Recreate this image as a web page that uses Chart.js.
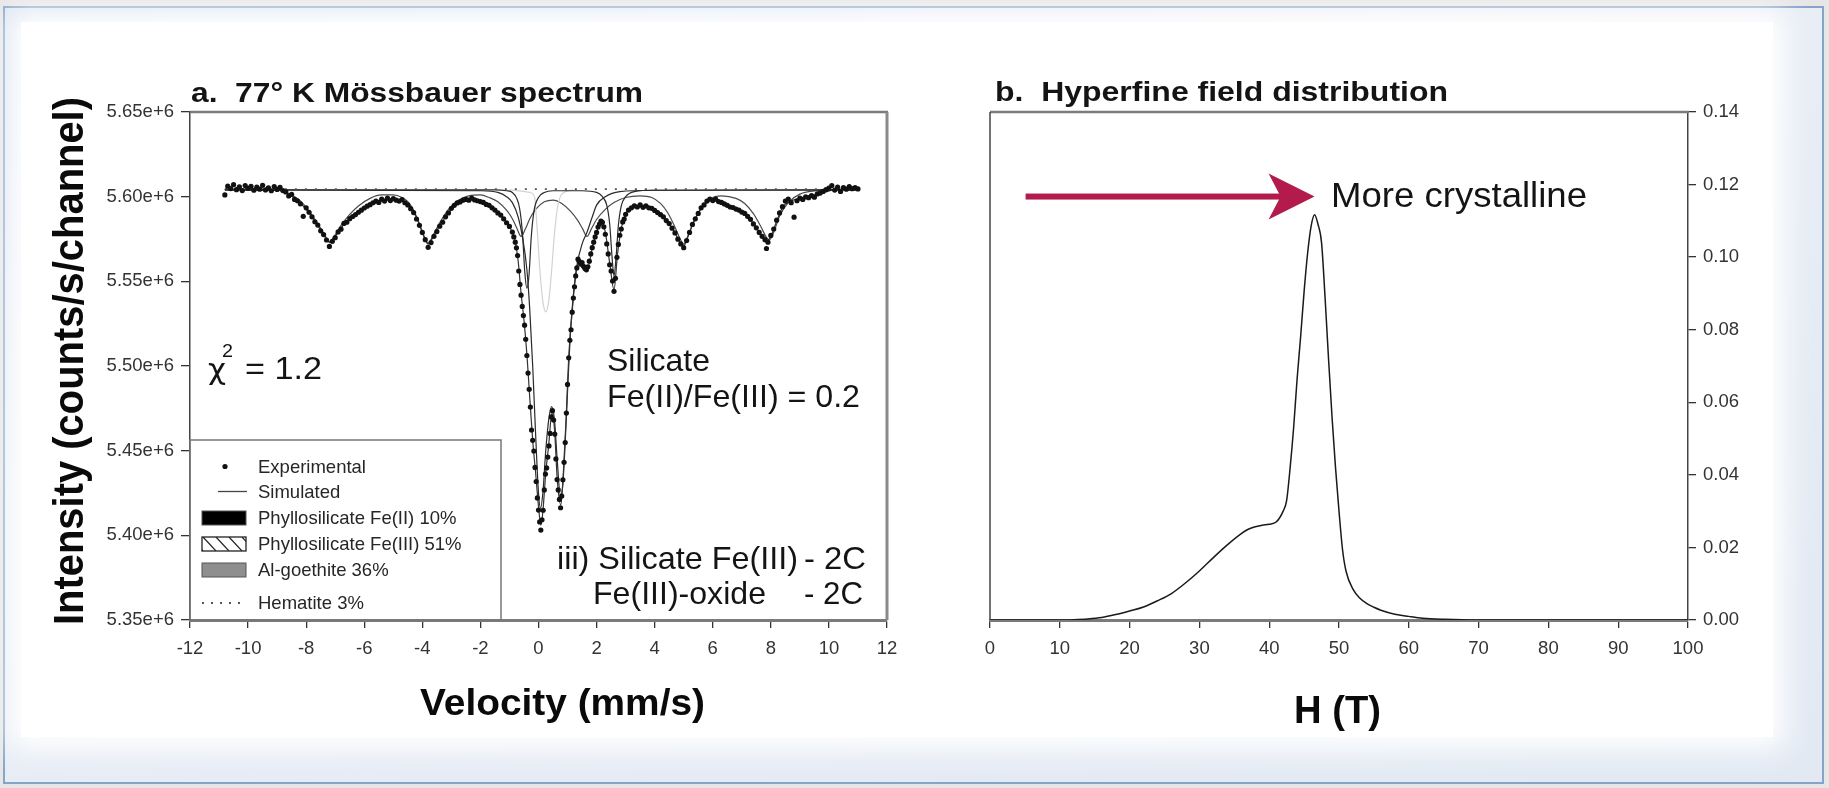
<!DOCTYPE html>
<html>
<head>
<meta charset="utf-8">
<title>77 K Mössbauer spectrum and hyperfine field distribution</title>
<script src="https://cdn.jsdelivr.net/npm/chart.js@4.4.1/dist/chart.umd.min.js"></script>
<style>
  html, body { margin: 0; padding: 0; }
  body { width: 1829px; height: 788px; background: #e6e6e6; position: relative; overflow: hidden; }
  #frame { position: absolute; left: 3px; top: 6px; width: 1817px; height: 774px;
           border: 2px solid #86a4c8;
           background: linear-gradient(160deg, #dbe5f1 0%, #e9eef6 35%, #e2e9f3 100%); }
  #sheet { position: absolute; left: 16px; top: 14px; width: 1752px; height: 715px;
           background: #fff; box-shadow: 0 0 28px 12px #fff; }
  canvas { position: absolute; top: 0; }
  #spec { left: 0; }
  #field { left: 940px; }
</style>
</head>
<body>
<div id="frame"><div id="sheet"></div></div>
<canvas id="spec" width="940" height="788"></canvas>
<canvas id="field" width="889" height="788"></canvas>
<script>
// ---- a. 77 K Mössbauer spectrum (intensity in units of 1e6 counts/s/channel) ----
const expVelocity = [
  -10.8, -10.7, -10.6, -10.5, -10.4, -10.3, -10.2, -10.1, -10.0, -9.9, -9.8, -9.7, -9.6, -9.5, -9.4,
  -9.3, -9.2, -9.1, -9.0, -8.9, -8.8, -8.7, -8.6, -8.5, -8.4, -8.3, -8.2, -8.1, -8.0, -7.9,
  -7.8, -7.7, -7.6, -7.5, -7.4, -7.3, -7.2, -7.1, -7.0, -6.9, -6.8, -6.7, -6.6, -6.5, -6.4,
  -6.3, -6.2, -6.1, -6.0, -5.9, -5.8, -5.7, -5.6, -5.5, -5.4, -5.3, -5.2, -5.1, -5.0, -4.9,
  -4.8, -4.7, -4.6, -4.5, -4.4, -4.3, -4.2, -4.1, -4.0, -3.9, -3.8, -3.7, -3.6, -3.5, -3.4,
  -3.3, -3.2, -3.1, -3.0, -2.9, -2.8, -2.7, -2.6, -2.5, -2.4, -2.3, -2.2, -2.1, -2.0, -1.9,
  -1.8, -1.7, -1.6, -1.5, -1.4, -1.3, -1.2, -1.1, -1.0, -0.9,
  -0.85, -0.80, -0.76, -0.72, -0.68, -0.64, -0.60, -0.56, -0.52, -0.48, -0.44, -0.40, -0.36, -0.32,
  -0.28, -0.24, -0.20, -0.16, -0.12, -0.08, -0.04, 0.00, 0.04, 0.08, 0.12, 0.16, 0.20, 0.24,
  0.28, 0.32, 0.36, 0.40, 0.44, 0.48, 0.52, 0.56, 0.60, 0.64, 0.68, 0.72, 0.76, 0.80,
  0.84, 0.88, 0.92, 0.96, 1.00, 1.04, 1.08, 1.12, 1.16, 1.20, 1.24, 1.28, 1.32, 1.36,
  1.40, 1.45, 1.50, 1.55, 1.60, 1.65, 1.70, 1.75, 1.80, 1.85, 1.90, 1.95, 2.00, 2.05,
  2.10, 2.15, 2.20, 2.25, 2.30, 2.35, 2.40, 2.45, 2.50, 2.55, 2.60, 2.65, 2.70, 2.75,
  2.80, 2.85, 2.90, 2.95,
  3.0, 3.1, 3.2, 3.3, 3.4, 3.5, 3.6, 3.7, 3.8, 3.9, 4.0, 4.1, 4.2, 4.3, 4.4,
  4.5, 4.6, 4.7, 4.8, 4.9, 5.0, 5.1, 5.2, 5.3, 5.4, 5.5, 5.6, 5.7, 5.8, 5.9,
  6.0, 6.1, 6.2, 6.3, 6.4, 6.5, 6.6, 6.7, 6.8, 6.9, 7.0, 7.1, 7.2, 7.3, 7.4,
  7.5, 7.6, 7.7, 7.8, 7.85, 7.9, 8.0, 8.1, 8.2, 8.3, 8.4, 8.5, 8.6, 8.7, 8.8,
  8.9, 9.0, 9.1, 9.2, 9.3, 9.4, 9.5, 9.6, 9.7, 9.8, 9.9, 10.0, 10.1, 10.2, 10.3,
  10.4, 10.5, 10.6, 10.7, 10.8, 10.9, 11.0
];
const expIntensity = [
  5.6010, 5.6062, 5.6048, 5.6071, 5.6041, 5.6058, 5.6036, 5.6066, 5.6049, 5.6061, 5.6038, 5.6056, 5.6044, 5.6067, 5.6040,
  5.6052, 5.6035, 5.6060, 5.6043, 5.6055, 5.6036, 5.6028, 5.6004, 5.6013, 5.5984, 5.5976, 5.5958, 5.5884, 5.5934, 5.5908,
  5.5881, 5.5852, 5.5832, 5.5798, 5.5776, 5.5744, 5.5706, 5.5736, 5.5758, 5.5792, 5.5808, 5.5842, 5.5849, 5.5870, 5.5883,
  5.5894, 5.5908, 5.5920, 5.5933, 5.5944, 5.5953, 5.5964, 5.5974, 5.5966, 5.5986, 5.5974, 5.5991, 5.5977, 5.5989, 5.5979,
  5.5974, 5.5983, 5.5964, 5.5951, 5.5929, 5.5906, 5.5868, 5.5831, 5.5789, 5.5746, 5.5701, 5.5729, 5.5766, 5.5794, 5.5826,
  5.5849, 5.5881, 5.5904, 5.5931, 5.5949, 5.5963, 5.5969, 5.5979, 5.5984, 5.5979, 5.5991, 5.5981, 5.5976, 5.5971, 5.5966,
  5.5954, 5.5949, 5.5934, 5.5921, 5.5904, 5.5891, 5.5869, 5.5846, 5.5824, 5.5791,
  5.5762, 5.5731, 5.5698, 5.5652, 5.5561, 5.5482, 5.5418, 5.5352, 5.5298, 5.5241, 5.5158, 5.5062, 5.4958, 5.4862,
  5.4758, 5.4622, 5.4561, 5.4498, 5.4401, 5.4318, 5.4221, 5.4149, 5.4079, 5.4031, 5.4092, 5.4148, 5.4268, 5.4362,
  5.4398, 5.4462, 5.4528, 5.4602, 5.4699, 5.4736, 5.4681, 5.4598, 5.4451, 5.4329, 5.4268, 5.4212, 5.4163, 5.4232,
  5.4328, 5.4431, 5.4548, 5.4722, 5.4891, 5.5048, 5.5152, 5.5214, 5.5318, 5.5401, 5.5468, 5.5532, 5.5579, 5.5631,
  5.5618, 5.5602, 5.5611, 5.5589, 5.5576, 5.5568, 5.5586, 5.5619, 5.5662, 5.5699, 5.5731, 5.5762, 5.5789, 5.5821,
  5.5838, 5.5856, 5.5849, 5.5822, 5.5778, 5.5721, 5.5662, 5.5598, 5.5561, 5.5502, 5.5441, 5.5518, 5.5642, 5.5718,
  5.5772, 5.5809, 5.5851, 5.5868,
  5.5896, 5.5921, 5.5934, 5.5946, 5.5939, 5.5951, 5.5937, 5.5946, 5.5934, 5.5931, 5.5919, 5.5906, 5.5894, 5.5881, 5.5859,
  5.5841, 5.5814, 5.5786, 5.5749, 5.5721, 5.5699, 5.5741, 5.5789, 5.5836, 5.5869, 5.5901, 5.5934, 5.5951, 5.5974, 5.5986,
  5.5977, 5.5986, 5.5971, 5.5966, 5.5957, 5.5949, 5.5939, 5.5936, 5.5927, 5.5921, 5.5909, 5.5901, 5.5884, 5.5866, 5.5839,
  5.5816, 5.5789, 5.5766, 5.5746, 5.5694, 5.5731, 5.5771, 5.5809, 5.5861, 5.5904, 5.5941, 5.5974, 5.5986, 5.5964, 5.5879,
  5.5976, 5.5991, 5.5984, 5.5999, 5.5994, 5.6006, 5.5997, 5.6016, 5.6021, 5.6031, 5.6041, 5.6051, 5.6066, 5.6039, 5.6056,
  5.6031, 5.6053, 5.6044, 5.6059, 5.6047, 5.6053, 5.6046
];

// fitted envelope
const simVelocity = [
  -10.8, -9.5, -9.0, -8.7, -8.4, -8.1, -7.8, -7.6, -7.4, -7.2, -7.0, -6.8, -6.5, -6.2, -5.8, -5.4, -5.0,
  -4.7, -4.5, -4.3, -4.1, -3.95, -3.8, -3.65, -3.5, -3.3, -3.1, -2.9, -2.6, -2.3, -2.0, -1.7, -1.4,
  -1.2, -1.0, -0.9, -0.8, -0.7, -0.6, -0.5, -0.4, -0.3, -0.2, -0.1, 0.0, 0.08, 0.15, 0.25, 0.35,
  0.46, 0.55, 0.65, 0.77, 0.85, 0.95, 1.05, 1.15, 1.25, 1.35, 1.45, 1.6, 1.7, 1.85, 2.0, 2.18,
  2.3, 2.45, 2.6, 2.72, 2.85, 3.0, 3.3, 3.6, 3.9, 4.2, 4.5, 4.7, 4.9, 5.0, 5.15, 5.3, 5.6, 5.9,
  6.2, 6.6, 7.0, 7.3, 7.6, 7.85, 8.0, 8.2, 8.4, 8.7, 9.2, 9.7, 10.2, 11.0
];
const simIntensity = [
  5.6045, 5.6045, 5.6040, 5.6025, 5.5990, 5.5945, 5.5880, 5.5830, 5.5775, 5.5730, 5.5765, 5.5815, 5.5870, 5.5910, 5.5950, 5.5975, 5.5982,
  5.5975, 5.5955, 5.5910, 5.5835, 5.5765, 5.5720, 5.5755, 5.5800, 5.5855, 5.5905, 5.5945, 5.5975, 5.5985, 5.5975, 5.5950, 5.5908,
  5.5870, 5.5820, 5.5790, 5.5735, 5.5620, 5.5430, 5.5270, 5.5070, 5.4810, 5.4560, 5.4370, 5.4170, 5.4060, 5.4140, 5.4370, 5.4530,
  5.4720, 5.4630, 5.4320, 5.4180, 5.4350, 5.4690, 5.5080, 5.5300, 5.5490, 5.5600, 5.5610, 5.5590, 5.5585, 5.5695, 5.5790, 5.5850,
  5.5790, 5.5610, 5.5450, 5.5660, 5.5810, 5.5895, 5.5940, 5.5940, 5.5930, 5.5895, 5.5840, 5.5785, 5.5725, 5.5710, 5.5765, 5.5835, 5.5930, 5.5980,
  5.5975, 5.5945, 5.5910, 5.5865, 5.5790, 5.5740, 5.5765, 5.5855, 5.5935, 5.5975, 5.5995, 5.6020, 5.6040, 5.6045
];

// Phyllosilicate Fe(II) doublet
const fe2Velocity = [-10.8, -1.5, -1.1, -0.9, -0.75, -0.65, -0.55, -0.47, -0.40, -0.33, -0.25, -0.15, 0.0, 0.2, 0.5,
  1.5, 2.0, 2.2, 2.35, 2.45, 2.53, 2.6, 2.67, 2.75, 2.85, 3.0, 3.3, 4.0, 11.0];
const fe2Intensity = [5.6040, 5.6040, 5.6035, 5.6025, 5.5990, 5.5930, 5.5780, 5.5550, 5.5460, 5.5530, 5.5760, 5.5920, 5.5995, 5.6025, 5.6035,
  5.6035, 5.6025, 5.6000, 5.5950, 5.5840, 5.5650, 5.5530, 5.5640, 5.5830, 5.5945, 5.6000, 5.6030, 5.6038, 5.6040];

// Phyllosilicate Fe(III) doublet
const fe3Velocity = [-10.8, -2.0, -1.4, -1.1, -0.9, -0.7, -0.55, -0.4, -0.3, -0.2, -0.1, 0.0, 0.07, 0.15, 0.25,
  0.35, 0.45, 0.55, 0.65, 0.75, 0.82, 0.9, 1.0, 1.1, 1.2, 1.33, 1.5, 1.67, 1.85, 2.0, 2.3, 2.8, 4.0, 11.0];
const fe3Intensity = [5.6040, 5.6035, 5.6025, 5.6000, 5.5965, 5.5880, 5.5760, 5.5570, 5.5330, 5.5000, 5.4600, 5.4250, 5.4160, 5.4250, 5.4500,
  5.4680, 5.4760, 5.4680, 5.4430, 5.4240, 5.4270, 5.4480, 5.4850, 5.5200, 5.5420, 5.5600, 5.5720, 5.5790, 5.5880, 5.5950, 5.6000, 5.6030, 5.6038, 5.6040];

// narrow central Fe(III) line
const fe3bVelocity = [-1.0, -0.3, -0.14, -0.05, 0.05, 0.15, 0.25, 0.35, 0.45, 0.55, 0.65, 0.8, 1.2];
const fe3bIntensity = [5.6040, 5.6025, 5.6000, 5.5820, 5.5560, 5.5380, 5.5320, 5.5380, 5.5560, 5.5780, 5.5930, 5.6015, 5.6040];

// Al-goethite sextet
const goethiteVelocity = [-10.8, -9.0, -8.5, -8.2, -7.9, -7.6, -7.4, -7.2, -7.0, -6.8, -6.5, -6.2, -5.8, -5.4, -5.0,
  -4.7, -4.5, -4.3, -4.1, -3.95, -3.8, -3.65, -3.5, -3.3, -3.1, -2.8, -2.4, -2.0, -1.7, -1.4,
  -1.1, -0.9, -0.75, -0.6, -0.45, -0.3, -0.1, 0.2, 0.5, 0.8, 1.1, 1.35, 1.52, 1.67, 1.82,
  2.0, 2.3, 2.6, 3.0, 3.5, 3.9, 4.2, 4.45, 4.7, 4.88, 5.0, 5.15, 5.35, 5.6, 5.9,
  6.3, 6.8, 7.1, 7.4, 7.65, 7.85, 7.95, 8.1, 8.3, 8.6, 9.0, 9.6, 10.5, 11.0];
const goethiteIntensity = [5.6040, 5.6038, 5.6010, 5.5975, 5.5915, 5.5840, 5.5785, 5.5735, 5.5775, 5.5830, 5.5895, 5.5945, 5.5990, 5.6010, 5.6010,
  5.5995, 5.5970, 5.5920, 5.5840, 5.5770, 5.5725, 5.5765, 5.5815, 5.5875, 5.5925, 5.5975, 5.6005, 5.6010, 5.5995, 5.5970,
  5.5920, 5.5870, 5.5815, 5.5765, 5.5810, 5.5870, 5.5925, 5.5970, 5.5980, 5.5960, 5.5915, 5.5860, 5.5810, 5.5765, 5.5810,
  5.5865, 5.5925, 5.5965, 5.5995, 5.6005, 5.5995, 5.5960, 5.5905, 5.5820, 5.5750, 5.5720, 5.5770, 5.5850, 5.5930, 5.5985,
  5.6005, 5.5990, 5.5960, 5.5900, 5.5825, 5.5760, 5.5745, 5.5790, 5.5885, 5.5965, 5.6015, 5.6035, 5.6040, 5.6040];

// Hematite
const hematiteVelocity = [-10.8, -8.0, -4.0, 0.0, 4.0, 8.0, 11.0];
const hematiteIntensity = [5.6045, 5.6045, 5.6045, 5.6045, 5.6045, 5.6045, 5.6045];

const velocityTicks = [-12, -10, -8, -6, -4, -2, 0, 2, 4, 6, 8, 10, 12];
const velocityTickLabels = ['-12', '-10', '-8', '-6', '-4', '-2', '0', '2', '4', '6', '8', '10', '12'];
const intensityTicks = [5.35, 5.40, 5.45, 5.50, 5.55, 5.60, 5.65];
const intensityTickLabels = ['5.35e+6', '5.40e+6', '5.45e+6', '5.50e+6', '5.55e+6', '5.60e+6', '5.65e+6'];

// ---- b. hyperfine field distribution ----
const fieldH = [0, 5, 10, 12, 14, 16, 18, 20, 22, 24, 26, 28, 30, 32, 34, 36, 37, 38, 39, 40, 41, 42, 42.5, 43, 43.5,
  44, 44.5, 45, 45.5, 46, 46.5, 47, 47.5, 48, 48.5, 49, 49.5, 50, 50.5, 51, 52, 53, 54, 55, 56, 58, 60, 62, 65,
  70, 80, 90, 100];
const fieldP = [0, 0, 0, 0.0001, 0.0003, 0.0007, 0.0015, 0.0025, 0.0036, 0.0053, 0.0073, 0.0102, 0.0135, 0.0172, 0.0207, 0.0238, 0.0250, 0.0257, 0.0261, 0.0264, 0.0270, 0.0300, 0.0330, 0.0420, 0.0530,
  0.0665, 0.0780, 0.0905, 0.1010, 0.1085, 0.1117, 0.1090, 0.1040, 0.0890, 0.0720, 0.0560, 0.0420, 0.0300, 0.0195, 0.0135, 0.0085, 0.0060, 0.0045, 0.0035, 0.0027, 0.0016, 0.0010, 0.0005, 0.0002,
  0, 0, 0, 0];
const fieldTicks = [0, 10, 20, 30, 40, 50, 60, 70, 80, 90, 100];
const fieldTickLabels = ['0', '10', '20', '30', '40', '50', '60', '70', '80', '90', '100'];
const probTicks = [0, 0.02, 0.04, 0.06, 0.08, 0.10, 0.12, 0.14];
const probTickLabels = ['0.00', '0.02', '0.04', '0.06', '0.08', '0.10', '0.12', '0.14'];

const FONT = '"Liberation Sans", Arial, Helvetica, sans-serif';
const GREEK = '"DejaVu Sans", "Noto Sans", sans-serif';
Chart.defaults.font.family = FONT;
Chart.defaults.animation = false;

const pairs = (xs, ys) => xs.map((x, i) => ({ x: x, y: ys[i] }));
const labelFor = (ticks, labels) => v => labels[ticks.findIndex(t => Math.abs(t - v) < 1e-9)];

// text drawn onto the canvas; width (if set) stretches the text horizontally to that size
function drawLabel(ctx, t, dx) {
  ctx.save();
  ctx.font = (t.bold ? 'bold ' : '') + t.size + 'px ' + (t.family || FONT);
  ctx.fillStyle = t.color || '#141414';
  ctx.textAlign = 'left';
  ctx.textBaseline = 'alphabetic';
  const w = ctx.measureText(t.text).width;
  const sx = t.width ? t.width / w : 1;
  ctx.translate(t.x - dx, t.y);
  if (t.rotate) ctx.rotate(t.rotate);
  ctx.scale(sx, 1);
  const off = t.align === 'center' ? -w / 2 : (t.align === 'right' ? -w : 0);
  ctx.fillText(t.text, off, 0);
  ctx.restore();
}

const panelText = {
  id: 'panelText',
  afterDraw(chart, args, opts) {
    (opts.items || []).forEach(t => drawLabel(chart.ctx, t, opts.offsetX || 0));
  }
};

// top/right/left box lines not covered by the axes
const frameLines = {
  id: 'frameLines',
  afterDatasetsDraw(chart, args, opts) {
    const { ctx, chartArea: a } = chart;
    (opts.lines || []).forEach(l => {
      ctx.save();
      ctx.strokeStyle = l.color;
      ctx.lineWidth = l.width;
      ctx.beginPath();
      if (l.side === 'top') { ctx.moveTo(a.left, a.top); ctx.lineTo(a.right + 1, a.top); }
      if (l.side === 'right') { ctx.moveTo(a.right, a.top); ctx.lineTo(a.right, a.bottom); }
      if (l.side === 'left') { ctx.moveTo(a.left, a.top); ctx.lineTo(a.left, a.bottom); }
      ctx.stroke();
      ctx.restore();
    });
  }
};

// boxed legend in the lower left corner of the spectrum
const spectrumLegend = {
  id: 'spectrumLegend',
  afterDraw(chart) {
    const ctx = chart.ctx;
    const a = chart.chartArea;
    const box = { l: a.left, t: 440, r: 501, b: a.bottom };
    ctx.save();
    ctx.fillStyle = '#fff';
    ctx.fillRect(box.l + 1, box.t, box.r - box.l, box.b - box.t - 1);
    ctx.strokeStyle = '#777';
    ctx.lineWidth = 1.5;
    ctx.strokeRect(box.l, box.t, box.r - box.l, box.b - box.t);

    const sx0 = 202, sx1 = 246, tx = 258;
    const rows = [
      { y: 466.5, kind: 'dot', label: 'Experimental' },
      { y: 491.5, kind: 'line', label: 'Simulated' },
      { y: 518, kind: 'box', fill: '#000', label: 'Phyllosilicate Fe(II) 10%' },
      { y: 544, kind: 'hatch', label: 'Phyllosilicate Fe(III) 51%' },
      { y: 570, kind: 'box', fill: '#8e8e8e', label: 'Al-goethite 36%' },
      { y: 603, kind: 'dots', label: 'Hematite 3%' }
    ];
    rows.forEach(r => {
      ctx.save();
      if (r.kind === 'dot') {
        ctx.fillStyle = '#111';
        ctx.beginPath(); ctx.arc(225, r.y, 2.6, 0, Math.PI * 2); ctx.fill();
      } else if (r.kind === 'line') {
        ctx.strokeStyle = '#444'; ctx.lineWidth = 1.3;
        ctx.beginPath(); ctx.moveTo(218, r.y); ctx.lineTo(247, r.y); ctx.stroke();
      } else if (r.kind === 'box') {
        ctx.fillStyle = r.fill; ctx.fillRect(sx0, r.y - 7, sx1 - sx0, 14);
        ctx.strokeStyle = '#555'; ctx.lineWidth = 1; ctx.strokeRect(sx0, r.y - 7, sx1 - sx0, 14);
      } else if (r.kind === 'hatch') {
        ctx.fillStyle = '#fff'; ctx.fillRect(sx0, r.y - 7, sx1 - sx0, 14);
        ctx.beginPath(); ctx.rect(sx0, r.y - 7, sx1 - sx0, 14); ctx.clip();
        ctx.strokeStyle = '#222'; ctx.lineWidth = 1.2;
        for (let x = sx0 - 12; x < sx1 + 4; x += 13) {
          ctx.beginPath(); ctx.moveTo(x, r.y - 7); ctx.lineTo(x + 13, r.y + 7); ctx.stroke();
        }
        ctx.restore(); ctx.save();
        ctx.strokeStyle = '#222'; ctx.lineWidth = 1.3;
        ctx.strokeRect(sx0, r.y - 7, sx1 - sx0, 14);
      } else if (r.kind === 'dots') {
        ctx.strokeStyle = '#555'; ctx.lineWidth = 1.8; ctx.setLineDash([2, 7]);
        ctx.beginPath(); ctx.moveTo(sx0, r.y); ctx.lineTo(sx1, r.y); ctx.stroke();
      }
      ctx.restore();
      ctx.save();
      ctx.font = '18.5px ' + FONT;
      ctx.fillStyle = '#262626';
      ctx.textBaseline = 'middle';
      ctx.fillText(r.label, tx, r.y + 1);
      ctx.restore();
    });
    ctx.restore();
  }
};

// arrow pointing at the sharp high-field peak
const crystallineArrow = {
  id: 'crystallineArrow',
  afterDraw(chart) {
    const { ctx, scales } = chart;
    const x0 = scales.x.getPixelForValue(5.1);
    const x1 = scales.x.getPixelForValue(46.5);
    const y = scales.y.getPixelForValue(0.1167);
    ctx.save();
    ctx.fillStyle = '#b31b4c';
    ctx.fillRect(x0, y - 3, x1 - x0 - 30, 6);
    ctx.beginPath();
    ctx.moveTo(x1, y);
    ctx.lineTo(x1 - 46, y - 23);
    ctx.lineTo(x1 - 34, y);
    ctx.lineTo(x1 - 46, y + 23);
    ctx.closePath();
    ctx.fill();
    ctx.restore();
  }
};

const tickFont = { size: 18.5, family: FONT };
const curve = (data, color, width) => ({
  data: data, showLine: true, pointRadius: 0, borderColor: color, borderWidth: width,
  cubicInterpolationMode: 'monotone', fill: false
});

new Chart(document.getElementById('spec'), {
  type: 'scatter',
  data: {
    datasets: [
      { label: 'Experimental', data: pairs(expVelocity, expIntensity), pointRadius: 2.6,
        pointBackgroundColor: '#111', pointBorderWidth: 0, showLine: false },
      Object.assign(curve(pairs(simVelocity, simIntensity), '#333', 1.2), { label: 'Simulated' }),
      Object.assign(curve(pairs(hematiteVelocity, hematiteIntensity), '#555', 1.8), { label: 'Hematite 3%', borderDash: [2, 8] }),
      Object.assign(curve(pairs(fe2Velocity, fe2Intensity), '#2a2a2a', 1.2), { label: 'Phyllosilicate Fe(II) 10%' }),
      Object.assign(curve(pairs(fe3Velocity, fe3Intensity), '#2a2a2a', 1.2), { label: 'Phyllosilicate Fe(III) 51%' }),
      Object.assign(curve(pairs(fe3bVelocity, fe3bIntensity), '#d2d2d2', 1.2), { label: 'Phyllosilicate Fe(III) 51%' }),
      Object.assign(curve(pairs(goethiteVelocity, goethiteIntensity), '#4a4a4a', 1.2), { label: 'Al-goethite 36%' })
    ]
  },
  options: {
    responsive: false,
    devicePixelRatio: 1,
    layout: { padding: { left: 0, top: 112, right: 53, bottom: 108 } },
    plugins: {
      legend: { display: false },
      tooltip: { enabled: false },
      frameLines: { lines: [
        { side: 'top', color: '#7b7b7b', width: 2.5 },
        { side: 'right', color: '#8a8a8a', width: 3 }
      ] },
      panelText: { offsetX: 0, items: [
        { text: 'a.  77° K Mössbauer spectrum', x: 191, y: 102, size: 28, bold: true, width: 452 },
        { text: 'Intensity (counts/s/channel)', x: 83, y: 361, size: 42, bold: true, width: 528, rotate: -Math.PI / 2, align: 'center', color: '#0a0a0a' },
        { text: 'Velocity (mm/s)', x: 420, y: 715, size: 37, bold: true, width: 285, color: '#0a0a0a' },
        { text: 'χ', x: 208, y: 379, size: 29, width: 18, family: GREEK },
        { text: '2', x: 222, y: 357, size: 19, width: 11 },
        { text: '= 1.2', x: 245, y: 379, size: 31, width: 77 },
        { text: 'Silicate', x: 607, y: 371, size: 32, width: 103 },
        { text: 'Fe(II)/Fe(III) = 0.2', x: 607, y: 407, size: 32, width: 253 },
        { text: 'iii) Silicate Fe(III)', x: 557, y: 569, size: 32, width: 241 },
        { text: '- 2C', x: 804, y: 569, size: 32, width: 62 },
        { text: 'Fe(III)-oxide', x: 593, y: 604, size: 32, width: 173 },
        { text: '- 2C', x: 804, y: 604, size: 32, width: 59 }
      ] }
    },
    scales: {
      x: {
        type: 'linear', min: -12, max: 12,
        afterBuildTicks: s => { s.ticks = velocityTicks.map(v => ({ value: v })); },
        afterFit: s => { s.height = 60; },
        grid: { drawOnChartArea: false, color: '#333', lineWidth: 1.3, tickLength: 8 },
        border: { color: '#7b7b7b', width: 3 },
        ticks: { color: '#333', font: tickFont, padding: 10, maxRotation: 0, autoSkip: false,
                 callback: labelFor(velocityTicks, velocityTickLabels) }
      },
      y: {
        type: 'linear', min: 5.35, max: 5.65,
        afterBuildTicks: s => { s.ticks = intensityTicks.map(v => ({ value: v })); },
        afterFit: s => { s.width = 190; },
        grid: { drawOnChartArea: false, color: '#333', lineWidth: 1.3, tickLength: 9 },
        border: { color: '#444', width: 1.5 },
        ticks: { color: '#333', font: tickFont, padding: 7, autoSkip: false,
                 callback: labelFor(intensityTicks, intensityTickLabels) }
      }
    }
  },
  plugins: [frameLines, spectrumLegend, panelText]
});

new Chart(document.getElementById('field'), {
  type: 'scatter',
  data: {
    datasets: [
      Object.assign(curve(pairs(fieldH, fieldP), '#1a1a1a', 1.5), { label: 'P(H)', tension: 0 })
    ]
  },
  options: {
    responsive: false,
    devicePixelRatio: 1,
    layout: { padding: { left: 50, top: 112, right: 61, bottom: 108 } },
    plugins: {
      legend: { display: false },
      tooltip: { enabled: false },
      frameLines: { lines: [
        { side: 'top', color: '#7b7b7b', width: 2.5 },
        { side: 'left', color: '#444', width: 1.5 }
      ] },
      panelText: { offsetX: 940, items: [
        { text: 'b.  Hyperfine field distribution', x: 995, y: 101, size: 28, bold: true, width: 453 },
        { text: 'H (T)', x: 1294, y: 723, size: 38, bold: true, width: 87, color: '#0a0a0a' },
        { text: 'More crystalline', x: 1331, y: 207, size: 35, width: 256 }
      ] }
    },
    scales: {
      x: {
        type: 'linear', min: 0, max: 100,
        afterBuildTicks: s => { s.ticks = fieldTicks.map(v => ({ value: v })); },
        afterFit: s => { s.height = 60; },
        grid: { drawOnChartArea: false, color: '#333', lineWidth: 1.3, tickLength: 8 },
        border: { color: '#7b7b7b', width: 3 },
        ticks: { color: '#333', font: tickFont, padding: 10, maxRotation: 0, autoSkip: false,
                 callback: labelFor(fieldTicks, fieldTickLabels) }
      },
      y: {
        type: 'linear', position: 'right', min: 0, max: 0.14,
        afterBuildTicks: s => { s.ticks = probTicks.map(v => ({ value: v })); },
        afterFit: s => { s.width = 80; },
        grid: { drawOnChartArea: false, color: '#333', lineWidth: 1.3, tickLength: 8 },
        border: { color: '#444', width: 1.5 },
        ticks: { color: '#333', font: tickFont, padding: 7, autoSkip: false,
                 callback: labelFor(probTicks, probTickLabels) }
      }
    }
  },
  plugins: [frameLines, crystallineArrow, panelText]
});
</script>
</body>
</html>
